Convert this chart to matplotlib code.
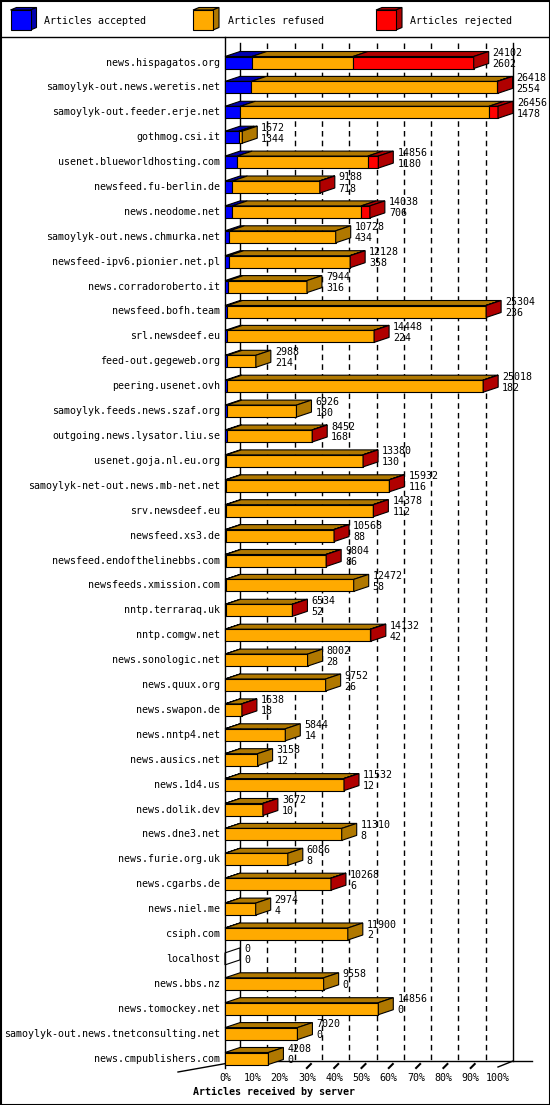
import matplotlib
matplotlib.use("Agg")
import matplotlib.pyplot as plt
from matplotlib.patches import Polygon, Rectangle
import numpy as np

plt.rcParams["font.family"] = ["DejaVu Sans Mono"]

servers = [
    "news.hispagatos.org", "samoylyk-out.news.weretis.net", "samoylyk-out.feeder.erje.net",
    "gothmog.csi.it", "usenet.blueworldhosting.com", "newsfeed.fu-berlin.de",
    "news.neodome.net", "samoylyk-out.news.chmurka.net", "newsfeed-ipv6.pionier.net.pl",
    "news.corradoroberto.it", "newsfeed.bofh.team", "srl.newsdeef.eu",
    "feed-out.gegeweb.org", "peering.usenet.ovh", "samoylyk.feeds.news.szaf.org",
    "outgoing.news.lysator.liu.se", "usenet.goja.nl.eu.org", "samoylyk-net-out.news.mb-net.net",
    "srv.newsdeef.eu", "newsfeed.xs3.de", "newsfeed.endofthelinebbs.com",
    "newsfeeds.xmission.com", "nntp.terraraq.uk", "nntp.comgw.net",
    "news.sonologic.net", "news.quux.org", "news.swapon.de", "news.nntp4.net",
    "news.ausics.net", "news.1d4.us", "news.dolik.dev", "news.dne3.net",
    "news.furie.org.uk", "news.cgarbs.de", "news.niel.me", "csiph.com", "localhost",
    "news.bbs.nz", "news.tomockey.net", "samoylyk-out.news.tnetconsulting.net",
    "news.cmpublishers.com",
]
offered = [24102, 26418, 26456, 1672, 14856, 9188, 14038, 10728, 12128, 7944, 25304, 14448,
           2988, 25018, 6926, 8452, 13380, 15932, 14378, 10568, 9804, 12472, 6534, 14132,
           8002, 9752, 1638, 5844, 3158, 11532, 3672, 11310, 6086, 10268, 2974, 11900, 0,
           9558, 14856, 7020, 4208]
accepted = [2602, 2554, 1478, 1344, 1180, 718, 706, 434, 358, 316, 236, 224, 214, 182, 180,
            168, 130, 116, 112, 88, 86, 58, 52, 42, 28, 26, 18, 14, 12, 12, 10, 8, 8, 6, 4,
            2, 0, 0, 0, 0, 0]
rejected = [11700, 50, 880, 0, 1020, 30, 840, 0, 30, 0, 30, 30, 0, 30, 0, 30, 30, 30, 30,
            30, 30, 0, 30, 60, 0, 0, 30, 0, 0, 30, 30, 0, 0, 30, 0, 0, 0, 0, 0, 0, 0]
refused = [o - a - r for o, a, r in zip(offered, accepted, rejected)]

legend_labels = ["Articles accepted", "Articles refused", "Articles rejected"]
colors = ["#0000ff", "#ffaa00", "#ff0000"]
dark = ["#0000b0", "#b07800", "#b00000"]
pct_ticks = [0, 10, 20, 30, 40, 50, 60, 70, 80, 90, 100]

W, H = 550, 1105
X0, XSCALE = 225, 273          # px of 0 and width of 100%
Y0, ROW = 62.5, 24.9
DX, DY = 15, 5                 # 3D depth in px
vmax = max(offered)
K = vmax / XSCALE

fig = plt.figure(figsize=(W / 100, H / 100), dpi=100)
# pixel axes for decorations
pa = fig.add_axes([0, 0, 1, 1])
pa.set_xlim(0, W)
pa.set_ylim(H, 0)
pa.axis("off")
# data axes for bars: x = articles, y = row
ax = fig.add_axes([0, 0, 1, 1])
ax.patch.set_alpha(0)
ax.set_xlim(-X0 * K, (W - X0) * K)
ax.set_ylim((H - Y0) / ROW, -Y0 / ROW)
ax.axis("off")
dxd, dyd = DX * K, DY / ROW
bh = 12 / ROW

# frame and legend
pa.add_patch(Rectangle((0.5, 0.5), W - 1, H - 1, fill=False, lw=1.5, ec="black"))
pa.plot([0, W], [37, 37], color="black", lw=1)
for lx, tx, lab, c, d in zip([10.5, 193, 376], [44.5, 228, 410.5], legend_labels, colors, dark):
    x1, y1, s = lx, 30, 20
    pa.add_patch(Polygon([(x1, y1 - s), (x1 + 6, y1 - s - 2.5), (x1 + s + 6, y1 - s - 2.5), (x1 + s, y1 - s)],
                         fc=d, ec="black", lw=0.8))
    pa.add_patch(Polygon([(x1 + s, y1), (x1 + s, y1 - s), (x1 + s + 6, y1 - s - 2.5), (x1 + s + 6, y1 - 2.5)],
                         fc=d, ec="black", lw=0.8))
    pa.add_patch(Rectangle((x1, y1 - s), s, s, fc=c, ec="black", lw=0.8))
    pa.text(tx, 21, lab, fontsize=7.2, va="center", ha="left")

# back grid
back_bottom = 1061
for p in pct_ticks:
    xb = X0 + DX + XSCALE * p / 100
    if p in (0, 100):
        pa.plot([xb, xb], [43, back_bottom], color="black", lw=1)
    else:
        pa.plot([xb, xb], [43, back_bottom], color="black", lw=1, ls=(0, (4, 3)))
pa.plot([X0, X0], [37, 1068], color="black", lw=1)
# floor
pa.plot([X0 + DX, 532], [back_bottom, back_bottom], color="black", lw=1)
pa.plot([178, X0 + DX], [1072, back_bottom], color="black", lw=1)
pa.plot([X0 + XSCALE, X0 + XSCALE + DX], [1067, back_bottom], color="black", lw=1)
for p in pct_ticks[3:-1]:
    xf = X0 + XSCALE * p / 100
    pa.plot([xf, xf + 4], [1068, 1064], color="black", lw=1.5)
    pa.text(X0 + XSCALE * p / 100, 1078, f"{p}%", fontsize=7.2, ha="center", va="center")
for p in pct_ticks[:3] + [100]:
    pa.text(X0 + XSCALE * p / 100, 1078, f"{p}%", fontsize=7.2, ha="center", va="center")
pa.text(274, 1092, "Articles received by server", fontsize=7.2, fontweight="bold",
        ha="center", va="center")

# bars
for i, name in enumerate(servers):
    segs = [accepted[i], refused[i], rejected[i]]
    top, bot = i - bh / 2, i + bh / 2
    left = 0
    last = 1
    for j, v in enumerate(segs):
        if v <= 0:
            continue
        # top face
        ax.add_patch(Polygon([(left, top), (left + dxd, top - dyd), (left + v + dxd, top - dyd),
                              (left + v, top)], fc=dark[j], ec="black", lw=0.8))
        ax.add_patch(Rectangle((left, top), v, bh, fc=colors[j], ec="black", lw=0.8))
        left += v
        last = j
    end = left
    ax.add_patch(Polygon([(end, top), (end + dxd, top - dyd), (end + dxd, bot - dyd), (end, bot)],
                         fc=dark[last] if end > 0 else "none", ec="black", lw=0.8))
    ax.text(-5 * K, i, name, fontsize=7.2, ha="right", va="center")
    ax.text(end + 19 * K, i - 9.5 / ROW, str(offered[i]), fontsize=7.2, ha="left", va="center")
    ax.text(end + 19 * K, i + 1.5 / ROW, str(accepted[i]), fontsize=7.2, ha="left", va="center")

fig.savefig("out.png", dpi=100)
